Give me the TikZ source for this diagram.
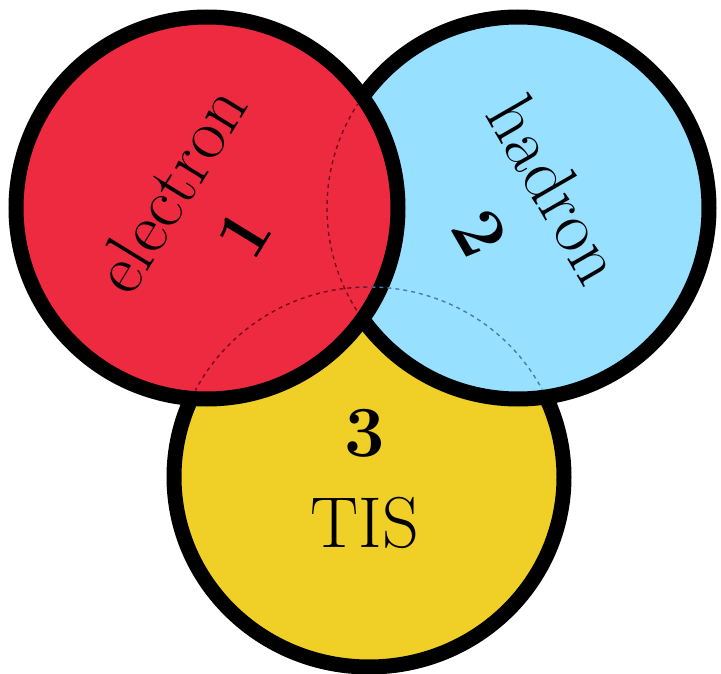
\documentclass[tikz,border=0pt]{standalone}
\definecolor{cred}{RGB}{238,42,64}
\definecolor{cblue}{RGB}{152,224,255}
\definecolor{cyellow}{RGB}{240,208,38}
\definecolor{dred}{RGB}{120,8,26}
\definecolor{dblue}{RGB}{62,128,178}
\begin{document}
\begin{tikzpicture}[x=1pt,y=-1pt,
  disc/.style={line width=15pt, draw=black},
  hidden/.style={line width=1.4pt, dash pattern=on 4pt off 4pt},
  lbl/.style={font=\fontsize{72}{86}\selectfont, align=center, inner sep=0pt}]
\useasboundingbox[fill=white] (0,0) rectangle (721,674);
\coordinate (R) at (207,208);
\coordinate (B) at (518,208);
\coordinate (Y) at (369,477);
% circles, bottom to top
\filldraw[disc, fill=cyellow] (Y) ellipse [x radius=195pt, y radius=190pt];
\filldraw[disc, fill=cblue] (B) circle (191pt);
\filldraw[disc, fill=cred] (R) circle (191pt);
% hidden outlines inside blue
\begin{scope}
  \clip (B) circle (183pt);
  \draw[hidden, dblue] (Y) ellipse [x radius=195pt, y radius=190pt];
\end{scope}
% hidden outlines inside red
\begin{scope}
  \clip (R) circle (183pt);
  \draw[hidden, dred] (Y) ellipse [x radius=195pt, y radius=190pt];
  \draw[hidden, dred] (B) circle (191pt);
\end{scope}
% labels
\node[lbl, rotate=58.5] (l1) at (206,211) {electron\\\textbf{1}};
\node[lbl, rotate=-60] (l2) at (519,211) {hadron\\\textbf{2}};
\node[lbl] (l3) at (365,479) {\textbf{3}\\[5pt]TIS};
\end{tikzpicture}
\end{document}
